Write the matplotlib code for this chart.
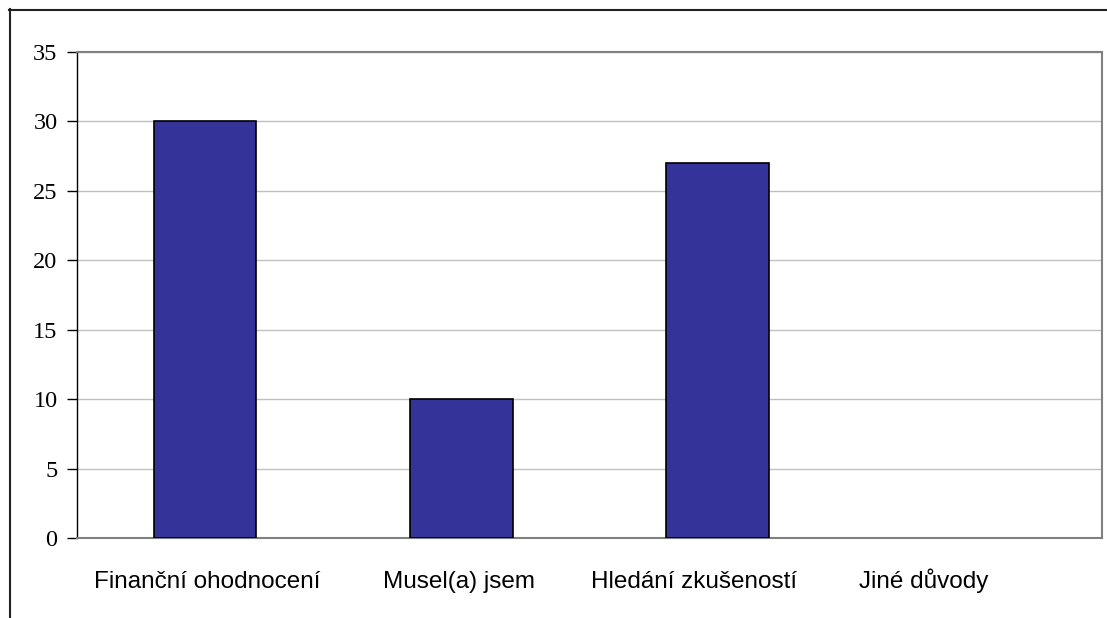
import matplotlib.pyplot as plt
from matplotlib.lines import Line2D
from matplotlib.transforms import ScaledTranslation

# Survey answers: reasons for the job
categories = ["Finanční ohodnocení", "Musel(a) jsem", "Hledání zkušeností", "Jiné důvody"]
counts = [30, 10, 27, 0]
yticks = [0, 5, 10, 15, 20, 25, 30, 35]

W, H = 1107, 618
fig = plt.figure(figsize=(W / 100, H / 100), dpi=100)
ax = fig.add_axes([77 / W, 1 - 538 / H, (1102 - 77) / W, (538 - 52) / H])

x = range(len(categories))
bars = ax.bar(x, counts, width=0.4, color="#333399", edgecolor="black", linewidth=1.2, zorder=3)
for b, v in zip(bars, counts):
    if v == 0:
        b.set_linewidth(0)

ax.set_xlim(-0.5, len(categories) - 0.5)
ax.set_ylim(0, 35)
ax.set_yticks(yticks)
ax.set_yticklabels([str(v) for v in yticks], family="Liberation Serif", fontsize=17.5)
ax.set_xticks(list(x))
ax.set_xticklabels(categories, family="Liberation Sans", fontsize=17.5, va="baseline")
ax.tick_params(axis="x", length=0, pad=36)
ax.tick_params(axis="y", length=7, width=1, color="black", pad=7, direction="out")

# category labels sit a little left of the bars further right
shifts = [2, -2, -24, -50]
for lbl, dx in zip(ax.get_xticklabels(), shifts):
    lbl.set_transform(lbl.get_transform() + ScaledTranslation(dx / 100, 0, fig.dpi_scale_trans))

ax.yaxis.grid(True, color="#c0c0c0", linewidth=1, zorder=0)
ax.set_axisbelow(True)
for side in ("top", "right", "bottom"):
    ax.spines[side].set_color("#808080")
    ax.spines[side].set_linewidth(1.5)
ax.spines["left"].set_color("black")
ax.spines["left"].set_linewidth(1)

# outer frame, cut off at right and bottom
fig.add_artist(Line2D([9 / W, 1.0], [1 - 9.5 / H, 1 - 9.5 / H], color="#222222", linewidth=1.5))
fig.add_artist(Line2D([9.5 / W, 9.5 / W], [0.0, 1 - 9 / H], color="#222222", linewidth=1.5))

fig.savefig("out.png", dpi=100)
